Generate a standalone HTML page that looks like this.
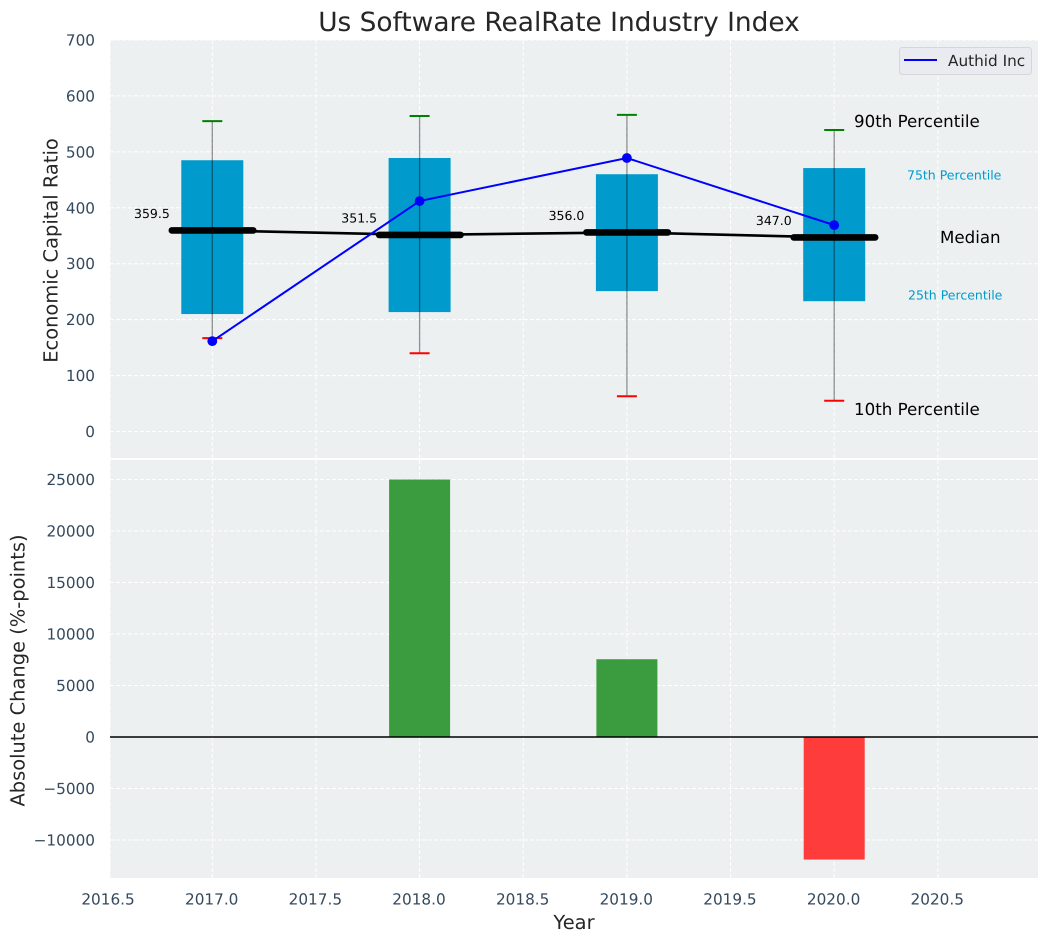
<!DOCTYPE html>
<html lang="en">
<head>
<meta charset="utf-8">
<title>Us Software RealRate Industry Index</title>
<style>
html,body{margin:0;padding:0;background:#fff;}
svg{display:block;font-family:"DejaVu Sans","Liberation Sans",sans-serif;text-rendering:geometricPrecision;}
</style>
</head>
<body>
<svg id="chart" xmlns="http://www.w3.org/2000/svg" width="1048" height="942" viewBox="0 0 1048 942"></svg>
<script>
const years = [2017, 2018, 2019, 2020];
const p90 = [555, 564, 566, 539];
const p75 = [485, 489, 460, 471];
const medians = [359.5, 351.5, 356.0, 347.0];
const p25 = [210, 213.5, 251, 233];
const p10 = [167, 140, 63, 55];
const companyValues = [161.5, 412, 489, 369];
const changeValues = [0, 25000, 7550, -11900];
const xTickValues = [2016.5, 2017, 2017.5, 2018, 2018.5, 2019, 2019.5, 2020, 2020.5];
const topTickValues = [0, 100, 200, 300, 400, 500, 600, 700];
const bottomTickValues = [-10000, -5000, 0, 5000, 10000, 15000, 20000, 25000];

const svg = document.getElementById('chart');
const NS = 'http://www.w3.org/2000/svg';
const xS = v => 212.3 + (v - 2017) * 207.3;
const yTop = v => 431.5 - v * 0.5593;
const yBot = v => 737 - v * 0.0103;
const L = 110, R = 1038, T1 = 40, B1 = 458, T2 = 460, B2 = 878;

function mk(tag, attrs, text) {
  const el = document.createElementNS(NS, tag);
  for (const k in attrs) el.setAttribute(k, attrs[k]);
  if (text !== undefined) el.textContent = text;
  svg.appendChild(el);
  return el;
}
function fmtX(v) { return v.toFixed(1); }
function fmtY(v) { return (v < 0 ? '\u2212' : '') + Math.abs(v); }

let el;

el = mk('rect', {x: L, y: T1, width: R - L, height: B1 - T1, fill: '#ecf0f1'});


el = mk('rect', {x: L, y: T2, width: R - L, height: B2 - T2, fill: '#ecf0f1'});



const gridStyle = {stroke: '#ffffff', 'stroke-width': 1, 'stroke-dasharray': '4 2', fill: 'none'};
xTickValues.forEach(v => {
  const x = Math.max(L, xS(v));
  el = mk('line', {x1: x, x2: x, y1: T1, y2: B1, ...gridStyle});
  
  
  el = mk('line', {x1: x, x2: x, y1: T2, y2: B2, ...gridStyle});
  
  
  el = mk('text', {x: xS(v) - 0.6, y: 904.5, 'text-anchor': 'middle', 'font-size': 15.28, fill: '#34495e'}, fmtX(v));
  
  
});
topTickValues.forEach(v => {
  el = mk('line', {x1: L, x2: R, y1: yTop(v), y2: yTop(v), ...gridStyle});
  
  
  el = mk('text', {x: 95, y: yTop(v) + 5.5, 'text-anchor': 'end', 'font-size': 15.28, fill: '#34495e'}, fmtY(v));
  
  
});
bottomTickValues.forEach(v => {
  el = mk('line', {x1: L, x2: R, y1: yBot(v), y2: yBot(v), ...gridStyle});
  
  
  el = mk('text', {x: 95, y: yBot(v) + 5.5, 'text-anchor': 'end', 'font-size': 15.28, fill: '#34495e'}, fmtY(v));
  
  
});

years.forEach((yr, i) => {
  el = mk('rect', {x: xS(yr) - 31, y: yTop(p75[i]), width: 62, height: yTop(p25[i]) - yTop(p75[i]), fill: '#009ACD'});
  
  
  el = mk('line', {x1: xS(yr), x2: xS(yr), y1: yTop(p90[i]), y2: yTop(p10[i]), stroke: '#000000', 'stroke-opacity': 0.42, 'stroke-width': 1.3});
  
  
  el = mk('line', {x1: xS(yr) - 10, x2: xS(yr) + 10, y1: yTop(p90[i]), y2: yTop(p90[i]), stroke: '#008000', 'stroke-width': 2});
  
  
  el = mk('line', {x1: xS(yr) - 10, x2: xS(yr) + 10, y1: yTop(p10[i]), y2: yTop(p10[i]), stroke: '#ff0000', 'stroke-width': 2});
  
  
});

el = mk('polyline', {points: years.map((yr, i) => xS(yr) + ',' + yTop(medians[i])).join(' '), fill: 'none', stroke: '#000000', 'stroke-width': 2.6});



years.forEach((yr, i) => {
  el = mk('line', {x1: xS(yr) - 40.5, x2: xS(yr) + 41, y1: yTop(medians[i]), y2: yTop(medians[i]), stroke: '#000000', 'stroke-width': 6.6, 'stroke-linecap': 'round'});
  
  
  el = mk('text', {x: xS(yr) - 42.5, y: yTop(medians[i]) - 12.5, 'text-anchor': 'end', 'font-size': 12.5, fill: '#000000'}, medians[i].toFixed(1));
  
  
});

el = mk('polyline', {points: years.map((yr, i) => xS(yr) + ',' + yTop(companyValues[i])).join(' '), fill: 'none', stroke: '#0000ff', 'stroke-width': 2});


years.forEach((yr, i) => {
  el = mk('circle', {cx: xS(yr), cy: yTop(companyValues[i]), r: 4.9, fill: '#0000ff'});
  
  
});

const lastIdx = years.length - 1;
el = mk('text', {x: 854, y: yTop(p90[lastIdx]) - 3.2, 'font-size': 16.67, fill: '#000000'}, '90th Percentile');


el = mk('text', {x: 907, y: yTop(p75[lastIdx]) + 11.3, 'font-size': 12.5, fill: '#009ACD'}, '75th Percentile');


el = mk('text', {x: 940, y: yTop(medians[lastIdx]) + 5.8, 'font-size': 16.67, fill: '#000000'}, 'Median');


el = mk('text', {x: 908, y: yTop(p25[lastIdx]) - 1.7, 'font-size': 12.5, fill: '#009ACD'}, '25th Percentile');


el = mk('text', {x: 854, y: yTop(p10[lastIdx]) + 14.3, 'font-size': 16.67, fill: '#000000'}, '10th Percentile');



years.forEach((yr, i) => {
  const v = changeValues[i];
  if (v === 0) return;
  const top = Math.min(yBot(v), yBot(0));
  el = mk('rect', {x: xS(yr) - 30.5, y: top, width: 61, height: Math.abs(yBot(v) - yBot(0)), fill: v > 0 ? '#3a9c3f' : '#ff3c3c'});
  
  
});
el = mk('line', {x1: L, x2: R, y1: yBot(0), y2: yBot(0), stroke: '#000000', 'stroke-width': 1.5});



el = mk('rect', {x: 899.5, y: 47.5, width: 132, height: 27, rx: 3, fill: '#e9ebf1', stroke: '#d4d6da', 'stroke-width': 1});


el = mk('line', {x1: 904, x2: 937, y1: 60, y2: 60, stroke: '#0000ff', 'stroke-width': 2});


el = mk('text', {x: 948, y: 66.2, 'font-size': 15.28, fill: '#262626'}, 'Authid Inc');



el = mk('text', {x: 559, y: 31, 'text-anchor': 'middle', 'font-size': 26.4, fill: '#262626'}, 'Us Software RealRate Industry Index');


el = mk('text', {x: 574, y: 929, 'text-anchor': 'middle', 'font-size': 19.44, fill: '#262626'}, 'Year');


el = mk('text', {transform: 'translate(57.5 250.5) rotate(-90)', 'text-anchor': 'middle', 'font-size': 19.44, fill: '#262626'}, 'Economic Capital Ratio');


el = mk('text', {transform: 'translate(24.5 670.5) rotate(-90)', 'text-anchor': 'middle', 'font-size': 19.44, fill: '#262626'}, 'Absolute Change (%-points)');


</script>
</body>
</html>
